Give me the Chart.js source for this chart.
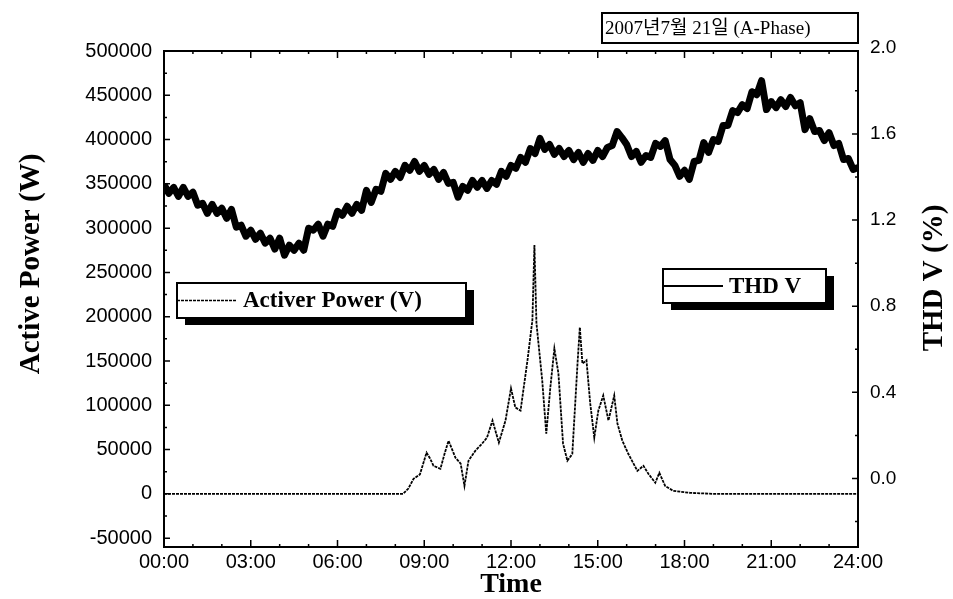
<!DOCTYPE html>
<html>
<head>
<meta charset="utf-8">
<script src="https://cdn.jsdelivr.net/npm/chart.js@4.4.0/dist/chart.umd.min.js"></script>
<style>
  html, body { margin: 0; padding: 0; background: #fff; }
  #wrap { width: 953px; height: 599px; }
</style>
</head>
<body>
<div id="wrap"><canvas id="c" width="953" height="599"></canvas></div>
<script>
// Header and axis text
const headerText = '2007년7월 21일 (A-Phase)';
const powerAxisTitle = 'Active Power (W)';
const thdAxisTitle = 'THD V (%)';
const timeAxisTitle = 'Time';
const powerLegendText = 'Activer Power (V)';
const thdLegendText = 'THD V';

// Tick positions and labels
const xTickHours = [0, 3, 6, 9, 12, 15, 18, 21, 24];
const xTickLabels = ['00:00', '03:00', '06:00', '09:00', '12:00', '15:00', '18:00', '21:00', '24:00'];
const powerTickValues = [-50000, 0, 50000, 100000, 150000, 200000, 250000, 300000, 350000, 400000, 450000, 500000];
const thdTickValues = [0, 0.4, 0.8, 1.2, 1.6, 2.0];
const thdTickLabels = ['0.0', '0.4', '0.8', '1.2', '1.6', '2.0'];

// Active power (W) over the day, hour of day vs watts
const powerHours = [0, 8.27, 8.45, 8.63, 8.85, 9.08, 9.2, 9.32, 9.56, 9.7, 9.84, 10.08, 10.26, 10.39, 10.53, 10.77, 11.0, 11.17, 11.36, 11.58, 11.81, 12.0, 12.15, 12.33, 12.57, 12.74, 12.81, 12.88, 12.95, 13.08, 13.22, 13.36, 13.5, 13.64, 13.8, 13.95, 14.12, 14.3, 14.38, 14.47, 14.61, 14.74, 14.88, 15.02, 15.19, 15.37, 15.57, 15.68, 15.85, 16.06, 16.37, 16.58, 16.75, 16.99, 17.13, 17.33, 17.61, 18.2, 19.0, 24];
const powerWatts = [0, 0, 6000, 17000, 22000, 46500, 40000, 31700, 28300, 45000, 60000, 40800, 34000, 9000, 37400, 48800, 56700, 63500, 82800, 57800, 82800, 119000, 97500, 94000, 150800, 196000, 281000, 192700, 170000, 128000, 68000, 120000, 164000, 136000, 56700, 37400, 45000, 147000, 188000, 147000, 150800, 102000, 63500, 94000, 111000, 82800, 111000, 79400, 60000, 45000, 26000, 31700, 22700, 12500, 23800, 9000, 3400, 1100, 0, 0];

// Voltage THD (%) sampled every 10 minutes from 00:00 to 24:00
const thdStepMinutes = 10;
const thdValues = [
  1.366, 1.324, 1.352, 1.310, 1.352, 1.310, 1.329, 1.269, 1.278, 1.231,
  1.273, 1.231, 1.255, 1.208, 1.250, 1.167, 1.176, 1.125, 1.153, 1.111,
  1.139, 1.093, 1.116, 1.065, 1.116, 1.037, 1.083, 1.060, 1.093, 1.060,
  1.162, 1.153, 1.181, 1.125, 1.181, 1.171, 1.241, 1.222, 1.264, 1.231,
  1.273, 1.245, 1.338, 1.282, 1.343, 1.333, 1.417, 1.389, 1.426, 1.398,
  1.454, 1.431, 1.472, 1.426, 1.454, 1.412, 1.435, 1.389, 1.421, 1.370,
  1.375, 1.306, 1.356, 1.338, 1.384, 1.352, 1.384, 1.347, 1.384, 1.366,
  1.426, 1.403, 1.454, 1.440, 1.491, 1.468, 1.532, 1.509, 1.579, 1.528,
  1.551, 1.505, 1.532, 1.495, 1.523, 1.481, 1.514, 1.468, 1.509, 1.477,
  1.523, 1.495, 1.537, 1.546, 1.611, 1.583, 1.551, 1.495, 1.519, 1.468,
  1.500, 1.491, 1.556, 1.542, 1.569, 1.481, 1.454, 1.403, 1.431, 1.389,
  1.472, 1.477, 1.560, 1.514, 1.574, 1.565, 1.639, 1.639, 1.708, 1.699,
  1.736, 1.718, 1.796, 1.782, 1.847, 1.713, 1.750, 1.722, 1.759, 1.727,
  1.769, 1.731, 1.745, 1.620, 1.671, 1.611, 1.616, 1.569, 1.606, 1.546,
  1.556, 1.481, 1.486, 1.435, 1.444
];

const serif = '"Liberation Serif", "Times New Roman", serif';
const sans = '"Liberation Sans", Arial, sans-serif';

const powerPoints = powerHours.map((h, i) => ({ x: h, y: powerWatts[i] }));
const thdPoints = thdValues.map((v, i) => ({ x: i * thdStepMinutes / 60, y: v }));

// Frame, inward tick marks, legend boxes, header box and side titles
const decorations = {
  id: 'decorations',
  afterDraw(chart) {
    const ctx = chart.ctx;
    const a = chart.chartArea;
    const xs = chart.scales.x, yl = chart.scales.y, yr = chart.scales.y1;
    ctx.save();
    ctx.strokeStyle = '#000';
    ctx.lineWidth = 2;
    ctx.strokeRect(a.left, a.top, a.right - a.left, a.bottom - a.top);

    ctx.lineWidth = 1.5;
    ctx.beginPath();
    for (let h = 0; h <= 24; h += 1) {
      const px = xs.getPixelForValue(h);
      const len = (h % 3 === 0) ? 7 : 3;
      ctx.moveTo(px, a.bottom); ctx.lineTo(px, a.bottom - len);
      ctx.moveTo(px, a.top); ctx.lineTo(px, a.top + len);
    }
    for (let v = -50000; v <= 500000; v += 25000) {
      const py = yl.getPixelForValue(v);
      const len = (v % 50000 === 0) ? 6 : 3;
      ctx.moveTo(a.left, py); ctx.lineTo(a.left + len, py);
    }
    for (let i = -1; i <= 10; i++) {
      const v = i * 0.2;
      const py = yr.getPixelForValue(v);
      if (py < a.top || py > a.bottom) continue;
      const len = (i % 2 === 0) ? 6 : 3;
      ctx.moveTo(a.right, py); ctx.lineTo(a.right - len, py);
    }
    ctx.stroke();

    // legend boxes with drop shadow
    const drawLegend = (x, y, w, h, ds, text) => {
      ctx.fillStyle = '#000';
      ctx.fillRect(x + 8, y + 7, w, h);
      ctx.fillStyle = '#fff';
      ctx.fillRect(x, y, w, h);
      ctx.lineWidth = 2;
      ctx.strokeStyle = '#000';
      ctx.strokeRect(x, y, w, h);
      ctx.beginPath();
      ctx.lineWidth = ds.legendLineWidth;
      ctx.setLineDash(ds.borderDash || []);
      ctx.moveTo(x, y + h / 2);
      ctx.lineTo(x + 60, y + h / 2);
      ctx.stroke();
      ctx.setLineDash([]);
      ctx.fillStyle = '#000';
      ctx.font = 'bold 23px ' + serif;
      ctx.textBaseline = 'middle';
      ctx.textAlign = 'left';
      ctx.fillText(text, x + 66, y + h / 2 + 1);
    };
    drawLegend(177, 283, 289, 35, chart.data.datasets[0], powerLegendText);
    drawLegend(663, 269, 163, 34, chart.data.datasets[1], thdLegendText);

    // header box
    ctx.lineWidth = 2;
    ctx.strokeStyle = '#000';
    ctx.fillStyle = '#fff';
    ctx.fillRect(602, 13, 256, 30);
    ctx.strokeRect(602, 13, 256, 30);
    ctx.fillStyle = '#000';
    ctx.font = '19px ' + serif + ', "Noto Sans CJK KR"';
    ctx.textBaseline = 'middle';
    ctx.textAlign = 'left';
    ctx.fillText(headerText, 605, 29);

    // vertical axis titles
    ctx.font = 'bold 29px ' + serif;
    ctx.textAlign = 'center';
    ctx.textBaseline = 'middle';
    ctx.save();
    ctx.translate(32, 264);
    ctx.rotate(-Math.PI / 2);
    ctx.fillText(powerAxisTitle, 0, 0);
    ctx.restore();
    ctx.save();
    ctx.translate(935, 278);
    ctx.rotate(-Math.PI / 2);
    ctx.fillText(thdAxisTitle, 0, 0);
    ctx.restore();
    ctx.restore();
  }
};

new Chart(document.getElementById('c'), {
  type: 'line',
  data: {
    datasets: [
      {
        label: powerLegendText,
        data: powerPoints,
        yAxisID: 'y',
        borderColor: '#000',
        borderWidth: 1.8,
        borderDash: [3, 1],
        legendLineWidth: 1.5,
        pointRadius: 0,
        tension: 0,
        fill: false
      },
      {
        label: thdLegendText,
        data: thdPoints,
        yAxisID: 'y1',
        borderColor: '#000',
        borderWidth: 7,
        legendLineWidth: 2,
        borderJoinStyle: 'round',
        pointRadius: 0,
        tension: 0,
        fill: false
      }
    ]
  },
  options: {
    responsive: false,
    animation: false,
    layout: { padding: { top: 51, left: 0, right: 0, bottom: 0 } },
    plugins: {
      legend: { display: false },
      tooltip: { enabled: false },
      title: { display: false }
    },
    scales: {
      x: {
        type: 'linear',
        min: 0,
        max: 24,
        grid: { display: false, drawTicks: false },
        border: { display: false },
        afterBuildTicks: s => { s.ticks = xTickHours.map(v => ({ value: v })); },
        afterFit: s => { s.height = 52; },
        ticks: {
          color: '#000',
          padding: 3,
          maxRotation: 0,
          autoSkip: false,
          font: { family: sans, size: 20 },
          callback: v => xTickLabels[xTickHours.indexOf(v)]
        },
        title: {
          display: true,
          text: timeAxisTitle,
          color: '#000',
          padding: { top: 0, bottom: 0 },
          font: { family: serif, size: 28, weight: 'bold', lineHeight: 1 }
        }
      },
      y: {
        position: 'left',
        min: -60000,
        max: 500000,
        grid: { display: false, drawTicks: false },
        border: { display: false },
        afterBuildTicks: s => { s.ticks = powerTickValues.map(v => ({ value: v })); },
        afterFit: s => { s.width = 164; },
        ticks: {
          color: '#000',
          padding: 12,
          font: { family: sans, size: 20 },
          callback: v => String(v)
        }
      },
      y1: {
        position: 'right',
        min: -0.318,
        max: 1.985,
        grid: { display: false, drawTicks: false },
        border: { display: false },
        afterBuildTicks: s => { s.ticks = thdTickValues.map(v => ({ value: v })); },
        afterFit: s => { s.width = 95; },
        ticks: {
          color: '#000',
          padding: 12,
          font: { family: sans, size: 19 },
          callback: v => thdTickLabels[thdTickValues.indexOf(v)]
        }
      }
    }
  },
  plugins: [decorations]
});
</script>
</body>
</html>
